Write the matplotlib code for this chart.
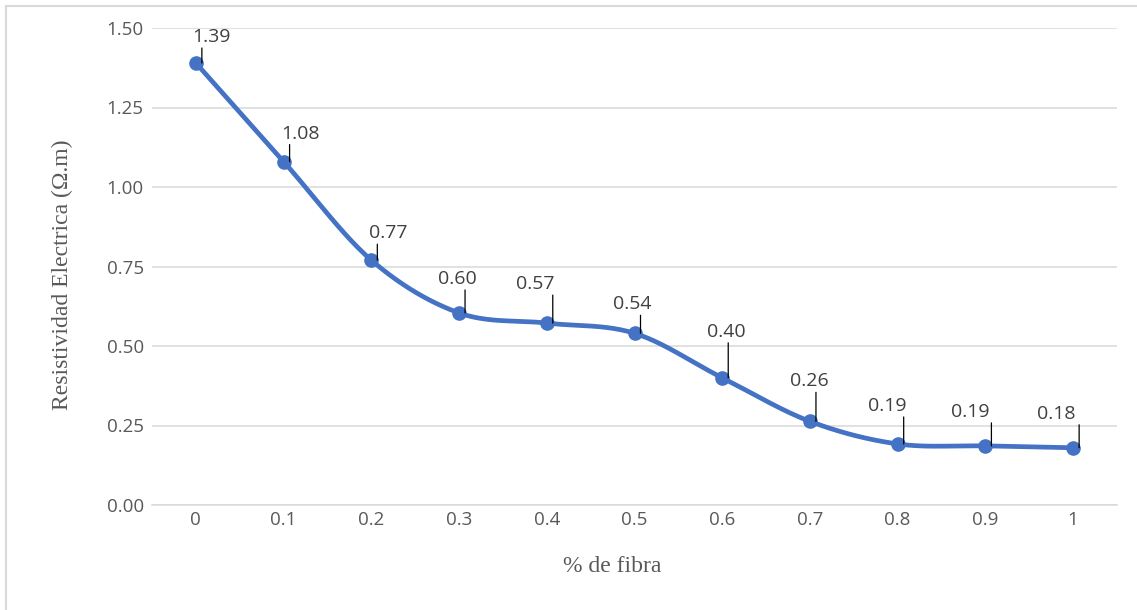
import numpy as np
import matplotlib
matplotlib.use("Agg")
import matplotlib.pyplot as plt
from matplotlib.lines import Line2D
from matplotlib.transforms import ScaledTranslation

# data
categorias = ["0", "0.1", "0.2", "0.3", "0.4", "0.5", "0.6", "0.7", "0.8", "0.9", "1"]
resistividad = [1.39, 1.08, 0.77, 0.604, 0.572, 0.54, 0.40, 0.263, 0.192, 0.186, 0.18]

# label offsets (pixels, up is positive) as Excel placed them
label_dx = [16, 17, 17, -2, -12, -2, 4, -1, -10, -15, -17]
label_dy = [26, 28, 27, 34, 39, 29, 46, 40, 38, 34, 34]

AZUL = "#4472C4"
GRIS = "#595959"
GRID = "#D9D9D9"
W, H = 1137, 610
DPI = 100


def smooth_excel(x, y, n=40):
    # bezier spline like Excel's "smoothed line"
    x = np.asarray(x, float)
    y = np.asarray(y, float)
    px = np.concatenate([[x[0]], x, [x[-1]]])
    py = np.concatenate([[y[0]], y, [y[-1]]])
    xs, ys = [], []
    t = np.linspace(0, 1, n)
    for i in range(1, len(px) - 2):
        p0 = np.array([px[i], py[i]])
        p3 = np.array([px[i + 1], py[i + 1]])
        p1 = p0 + (p3 - np.array([px[i - 1], py[i - 1]])) / 6
        p2 = p3 - (np.array([px[i + 2], py[i + 2]]) - p0) / 6
        b = ((1 - t) ** 3)[:, None] * p0 + (3 * (1 - t) ** 2 * t)[:, None] * p1 \
            + (3 * (1 - t) * t ** 2)[:, None] * p2 + (t ** 3)[:, None] * p3
        xs.extend(b[:, 0])
        ys.extend(b[:, 1])
    return np.array(xs), np.array(ys)


fig = plt.figure(figsize=(W / DPI, H / DPI), dpi=DPI)
ax = fig.add_axes([152 / W, 1 - 505 / H, (1117 - 152) / W, (505 - 28) / H])

xpos = np.arange(len(categorias))
sx, sy = smooth_excel(xpos, resistividad)
ax.plot(sx, sy, color=AZUL, lw=3.4, solid_capstyle="round", zorder=3)
ax.plot(xpos, resistividad, "o", color=AZUL, ms=9.5, zorder=4)

px2pt = 72 / DPI
for i, (xv, yv) in enumerate(zip(xpos, resistividad)):
    ax.annotate(f"{yv:.2f}", (xv, yv), xytext=(label_dx[i] * px2pt, label_dy[i] * px2pt),
                textcoords="offset points", ha="center", va="center",
                fontsize=14, color="#404040", family="Open Sans", zorder=6)
    # leader line
    tr = ax.transData + ScaledTranslation(6 / DPI, 0, fig.dpi_scale_trans)
    ax.annotate("", (xv, yv), xycoords=tr,
                xytext=(0, (label_dy[i] - 11) * px2pt), textcoords="offset points",
                arrowprops=dict(arrowstyle="-", color="black", lw=0.9,
                                shrinkA=0, shrinkB=0), zorder=5)

ax.set_xlim(-0.5, len(categorias) - 0.5)
ax.set_ylim(0, 1.5)
ax.set_yticks([0, 0.25, 0.5, 0.75, 1.0, 1.25, 1.5])
ax.set_yticklabels(["0.00", "0.25", "0.50", "0.75", "1.00", "1.25", "1.50"])
ax.set_xticks(xpos)
ax.set_xticklabels(categorias)
for lab in ax.get_xticklabels() + ax.get_yticklabels():
    lab.set_family("Open Sans")
    lab.set_fontsize(13.5)
    lab.set_color(GRIS)
ax.tick_params(axis="both", length=0)
ax.tick_params(axis="y", pad=6)
ax.tick_params(axis="x", pad=4)
ax.grid(axis="y", color=GRID, lw=1.1)
ax.set_axisbelow(True)
for s in ["top", "right", "left"]:
    ax.spines[s].set_visible(False)
ax.spines["bottom"].set_color(GRID)
ax.spines["bottom"].set_linewidth(1.1)

fig.text(612 / W, 1 - 567 / H, "% de fibra", ha="center", va="center",
         family="Liberation Serif", fontsize=17, color=GRIS)
fig.text(62 / W, 1 - 275 / H, "Resistividad Electrica (Ω.m)", ha="center", va="center",
         rotation=90, family="Liberation Serif", fontsize=17, color=GRIS)

# chart border (only top and left visible in the crop)
fig.add_artist(Line2D([6 / W, 1], [1 - 6 / H, 1 - 6 / H], transform=fig.transFigure,
                      color=GRID, lw=1.5))
fig.add_artist(Line2D([6 / W, 6 / W], [0, 1 - 6 / H], transform=fig.transFigure,
                      color=GRID, lw=1.5))

fig.savefig("out.png", dpi=DPI)
